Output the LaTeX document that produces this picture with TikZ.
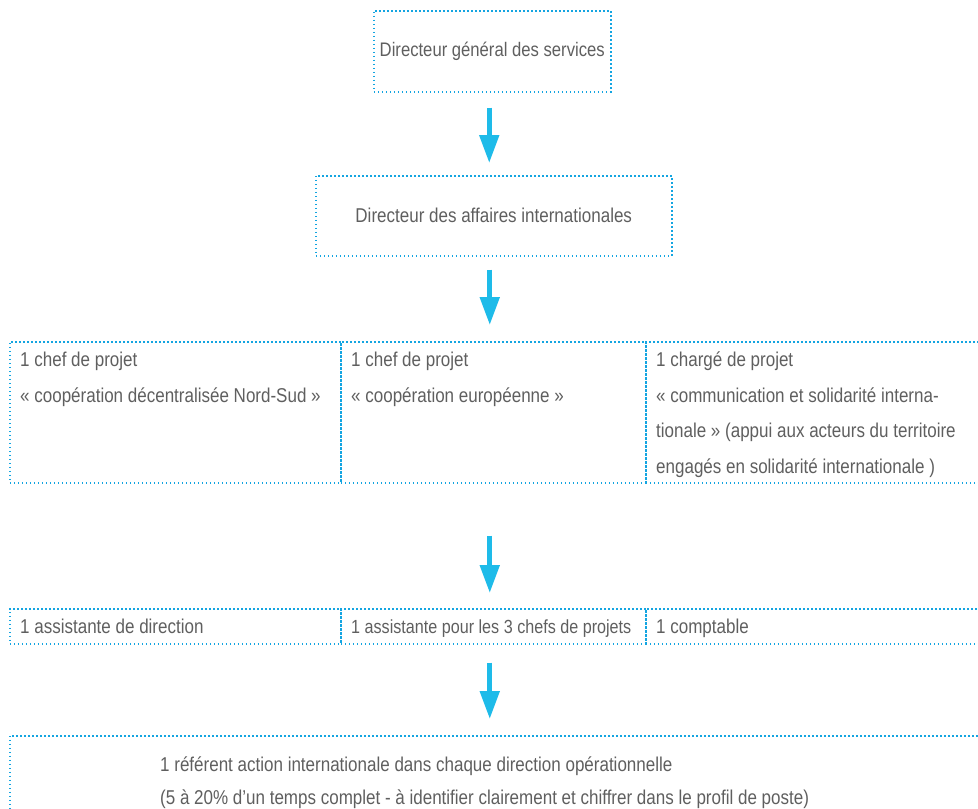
\documentclass[tikz,border=0pt]{standalone}
\usepackage{fontspec}
\setmainfont{Liberation Sans}[FakeStretch=0.85]
\usepackage{tikz}
\usetikzlibrary{arrows.meta,positioning,calc}
\definecolor{frame}{RGB}{20,165,225}
\definecolor{flowcol}{RGB}{30,187,233}
\definecolor{txt}{RGB}{95,95,95}

\begin{document}
\begin{tikzpicture}[
    x=1pt, y=-1pt,
    box/.style={rectangle, draw=frame, line width=1.5pt, dash pattern=on 1.5pt off 2.5pt,
                anchor=north west, inner sep=0pt, text=txt},
    label/.style={inner sep=0pt, text=txt, align=left, font=\fontsize{20}{35.5}\selectfont},
    flow/.style={draw=flowcol, line width=5pt, -{Triangle[width=19pt,length=28pt]}},
]
    \useasboundingbox (0,0) rectangle (978,809);
    \clip (0,0) rectangle (978,809);

    % Directions
    \node[box, minimum width=237pt, minimum height=81pt, font=\fontsize{19.6}{24}\selectfont]
        (dgs) at (373,10) {Directeur général des services};
    \node[box, minimum width=356pt, minimum height=80pt, font=\fontsize{20}{24}\selectfont]
        (dai) at (315,175) {Directeur des affaires internationales};

    % Chefs de projet
    \node[box, minimum width=331pt, minimum height=141pt] (cp1) at (9,341) {};
    \node[box, minimum width=305pt, minimum height=141pt] (cp2) at (340,341) {};
    \node[box, minimum width=340pt, minimum height=141pt] (cp3) at (645,341) {};
    \node[label, anchor=north west] (tcp1) at (20,352)
        {1 chef de projet\\« coopération décentralisée Nord-Sud »};
    \node[label, anchor=north west] (tcp2) at (351,352)
        {1 chef de projet\\« coopération européenne »};
    \node[label, anchor=north west] (tcp3) at (656,352)
        {1 chargé de projet\\« communication et solidarité interna-\\tionale » (appui aux acteurs du territoire\\engagés en solidarité internationale )};

    % Assistants
    \node[box, minimum width=331pt, minimum height=35pt] (as1) at (9,608) {};
    \node[box, minimum width=305pt, minimum height=35pt] (as2) at (340,608) {};
    \node[box, minimum width=340pt, minimum height=35pt] (as3) at (645,608) {};
    \node[label, anchor=base west] (tas1) at (20,633) {1 assistante de direction};
    \node[label, anchor=base west, font=\fontsize{19}{35.5}\selectfont] (tas2) at (351,633) {1 assistante pour les 3 chefs de projets};
    \node[label, anchor=base west] (tas3) at (656,633) {1 comptable};

    % Referents
    \node[box, minimum width=975pt, minimum height=110pt] (ref) at (9,735) {};
    \node[label, anchor=north west, font=\fontsize{20}{33}\selectfont] (tref) at (160,757)
        {1 référent action internationale dans chaque direction opérationnelle\\(5 à 20\% d’un temps complet - à identifier clairement et chiffrer dans le profil de poste)};

    % Arrows
    \draw[flow, shorten <=15pt, shorten >=12pt] ([xshift=-3pt]dgs.south) -- ([xshift=-3pt]dgs.south |- dai.north);
    \draw[flow, shorten <=13pt, shorten >=16pt] ([xshift=-4pt]dai.south) -- ([xshift=-4pt]dai.south |- cp2.north);
    \draw[flow, shorten <=52pt, shorten >=15pt] ([xshift=-3.5pt]cp2.south) -- ([xshift=-3.5pt]cp2.south |- as2.north);
    \draw[flow, shorten <=18pt, shorten >=16pt] ([xshift=-3.5pt]as2.south) -- ([xshift=-3.5pt]as2.south |- ref.north);
\end{tikzpicture}
\end{document}
